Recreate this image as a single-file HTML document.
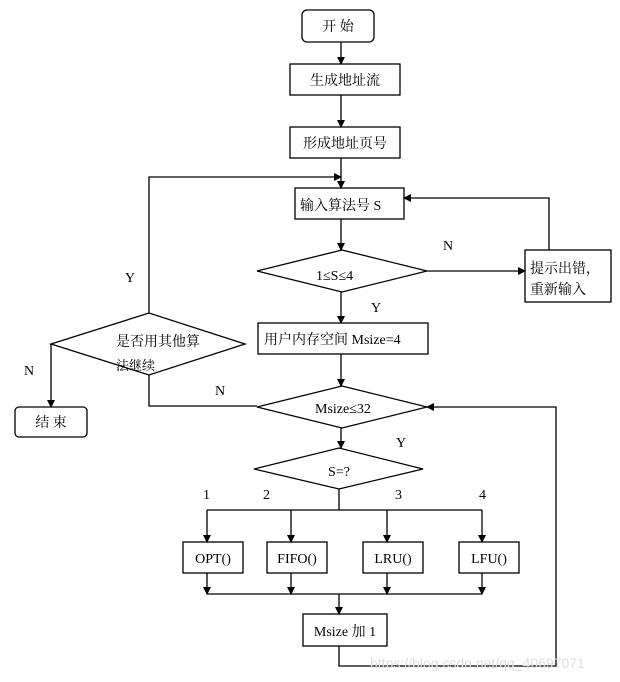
<!DOCTYPE html>
<html><head><meta charset="utf-8"><style>
html,body{margin:0;padding:0;background:#fff}
svg{display:block}
text{font-family:"Liberation Serif","Noto Serif CJK SC",serif;font-size:14px;fill:#000}
</style></head><body>
<svg width="620" height="682" viewBox="0 0 620 682" xmlns="http://www.w3.org/2000/svg">
<defs><marker id="a" markerWidth="8" markerHeight="8" refX="7" refY="4" orient="auto" markerUnits="userSpaceOnUse"><path d="M0,0 L8,4 L0,8 z" fill="#000"/></marker></defs>
<g fill="none" stroke="#000" stroke-width="1.3">
<rect x="302" y="10" width="72" height="32" rx="5"/>
<rect x="290" y="64" width="110" height="31"/>
<rect x="290" y="127" width="110" height="31"/>
<rect x="295" y="188" width="109" height="31"/>
<polygon points="257,271 342,250 427,271 342,292"/>
<rect x="525" y="250" width="86" height="52"/>
<rect x="258" y="323" width="170" height="31"/>
<polygon points="51,344 149,313 245,344 149,375"/>
<rect x="15" y="407" width="72" height="30" rx="4"/>
<polygon points="257,407 342,386 427,407 342,428"/>
<polygon points="254,469 339,448 423,469 339,489"/>
<rect x="183" y="542" width="60" height="31"/>
<rect x="267" y="542" width="60" height="31"/>
<rect x="363" y="542" width="60" height="31"/>
<rect x="459" y="542" width="60" height="31"/>
<rect x="303" y="614" width="84" height="32"/>
<path d="M341,42 V64" marker-end="url(#a)"/>
<path d="M341,95 V127" marker-end="url(#a)"/>
<path d="M341,158 V188" marker-end="url(#a)"/>
<path d="M341,219 V250" marker-end="url(#a)"/>
<path d="M427,271 H525" marker-end="url(#a)"/>
<path d="M549,250 V198 H404" marker-end="url(#a)"/>
<path d="M341,292 V323" marker-end="url(#a)"/>
<path d="M341,354 V386" marker-end="url(#a)"/>
<path d="M149,313 V177 H341" marker-end="url(#a)"/>
<path d="M51,344 V407" marker-end="url(#a)"/>
<path d="M149,375 V406 H257"/>
<path d="M341,428 V448" marker-end="url(#a)"/>
<path d="M339,489 V510 M207,510 H482"/>
<path d="M207,510 V542" marker-end="url(#a)"/>
<path d="M291,510 V542" marker-end="url(#a)"/>
<path d="M387,510 V542" marker-end="url(#a)"/>
<path d="M482,510 V542" marker-end="url(#a)"/>
<path d="M207,573 V594" marker-end="url(#a)"/>
<path d="M291,573 V594" marker-end="url(#a)"/>
<path d="M387,573 V594" marker-end="url(#a)"/>
<path d="M482,573 V594" marker-end="url(#a)"/>
<path d="M207,594 H482"/>
<path d="M339,594 V614" marker-end="url(#a)"/>
<path d="M339,646 V666 H556 V407 H427" marker-end="url(#a)"/>
</g>
<text x="338" y="31" text-anchor="middle">开 始</text>
<text x="345" y="85" text-anchor="middle">生成地址流</text>
<text x="345" y="148" text-anchor="middle">形成地址页号</text>
<text x="300" y="210">输入算法号 S</text>
<text x="316" y="280">1≤S≤4</text>
<text x="530" y="273">提示出错，</text>
<text x="530" y="294">重新输入</text>
<text x="264" y="344">用户内存空间 Msize=4</text>
<text x="116" y="346">是否用其他算</text>
<text x="116" y="370" style="font-size:13px">法继续</text>
<text x="51" y="427" text-anchor="middle">结 束</text>
<text x="315" y="413">Msize≤32</text>
<text x="339" y="476" text-anchor="middle">S=?</text>
<text x="213" y="563" text-anchor="middle">OPT()</text>
<text x="297" y="563" text-anchor="middle">FIFO()</text>
<text x="393" y="563" text-anchor="middle">LRU()</text>
<text x="489" y="563" text-anchor="middle">LFU()</text>
<text x="345" y="636" text-anchor="middle">Msize 加 1</text>
<text x="443" y="250">N</text>
<text x="371" y="312">Y</text>
<text x="125" y="282">Y</text>
<text x="24" y="375">N</text>
<text x="215" y="395">N</text>
<text x="396" y="447">Y</text>
<text x="203" y="499">1</text>
<text x="263" y="499">2</text>
<text x="395" y="499">3</text>
<text x="479" y="499">4</text>
<text x="370" y="668" style="font-family:'Liberation Sans',sans-serif;font-size:14px;fill:#ddd">https://blog.csdn.net/qq_40697071</text>
</svg>
</body></html>
